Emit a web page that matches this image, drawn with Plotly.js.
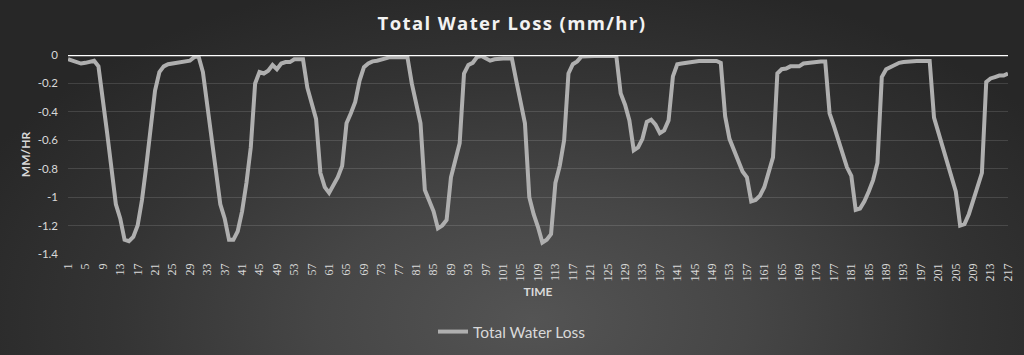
<!DOCTYPE html>
<html>
<head>
<meta charset="utf-8">
<script src="https://cdn.plot.ly/plotly-3.0.1.min.js"></script>
<style>
  html, body { margin: 0; padding: 0; }
  body {
    width: 1024px; height: 355px; overflow: hidden;
    background: radial-gradient(ellipse 60% 100% at 52% 90%, #545454 0%, #464646 35%, #343434 68%, #272727 100%);
  }
  #chart { width: 1024px; height: 355px; }
  .gtitle { letter-spacing: 1.4px; }
</style>
</head>
<body>
<div id="chart"></div>
<script>
// Time categories (x)
var timeCategories = [
  1,2,3,4,5,6,7,8,9,10,11,12,13,14,15,16,17,18,19,20,
  21,22,23,24,25,26,27,28,29,30,31,32,33,34,35,36,37,38,39,40,
  41,42,43,44,45,46,47,48,49,50,51,52,53,54,55,56,57,58,59,60,
  61,62,63,64,65,66,67,68,69,70,71,72,73,74,75,76,77,78,79,80,
  81,82,83,84,85,86,87,88,89,90,91,92,93,94,95,96,97,98,99,100,
  101,102,103,104,105,106,107,108,109,110,111,112,113,114,115,116,117,118,119,120,
  121,122,123,124,125,126,127,128,129,130,131,132,133,134,135,136,137,138,139,140,
  141,142,143,144,145,146,147,148,149,150,151,152,153,154,155,156,157,158,159,160,
  161,162,163,164,165,166,167,168,169,170,171,172,173,174,175,176,177,178,179,180,
  181,182,183,184,185,186,187,188,189,190,191,192,193,194,195,196,197,198,199,200,
  201,202,203,204,205,206,207,208,209,210,211,212,213,214,215,216,217
];

// Total Water Loss (mm/hr)
var totalWaterLoss = [
  -0.03,-0.04,-0.055,-0.06,-0.055,-0.05,-0.04,-0.08,-0.3,-0.55,
  -0.8,-1.05,-1.15,-1.3,-1.31,-1.28,-1.2,-1.02,-0.78,-0.52,
  -0.25,-0.12,-0.08,-0.065,-0.06,-0.05,-0.045,-0.04,-0.04,-0.015,
  -0.01,-0.12,-0.35,-0.6,-0.85,-1.05,-1.15,-1.3,-1.3,-1.24,
  -1.1,-0.9,-0.65,-0.2,-0.12,-0.13,-0.11,-0.07,-0.1,-0.06,
  -0.05,-0.05,-0.03,-0.03,-0.03,-0.23,-0.33,-0.45,-0.83,-0.93,
  -0.97,-0.92,-0.86,-0.78,-0.48,-0.41,-0.33,-0.18,-0.085,-0.06,
  -0.045,-0.04,-0.03,-0.02,-0.015,-0.015,-0.015,-0.015,-0.015,-0.2,
  -0.33,-0.48,-0.95,-1.03,-1.1,-1.22,-1.2,-1.16,-0.86,-0.74,
  -0.62,-0.13,-0.07,-0.055,-0.015,-0.007,-0.025,-0.04,-0.03,-0.025,
  -0.025,-0.025,-0.025,-0.18,-0.33,-0.48,-1.0,-1.12,-1.21,-1.32,
  -1.3,-1.26,-0.9,-0.78,-0.6,-0.13,-0.065,-0.045,-0.01,-0.007,
  -0.007,-0.007,-0.007,-0.007,-0.007,-0.007,-0.007,-0.27,-0.35,-0.46,
  -0.67,-0.65,-0.59,-0.47,-0.455,-0.49,-0.55,-0.53,-0.46,-0.15,
  -0.065,-0.06,-0.055,-0.05,-0.042,-0.042,-0.042,-0.042,-0.042,-0.042,
  -0.055,-0.43,-0.59,-0.67,-0.75,-0.82,-0.86,-1.03,-1.02,-0.99,
  -0.93,-0.83,-0.72,-0.13,-0.1,-0.095,-0.08,-0.08,-0.08,-0.06,
  -0.055,-0.055,-0.045,-0.045,-0.045,-0.41,-0.5,-0.6,-0.7,-0.79,
  -0.85,-1.09,-1.08,-1.03,-0.96,-0.88,-0.76,-0.155,-0.1,-0.085,
  -0.07,-0.055,-0.05,-0.045,-0.042,-0.042,-0.042,-0.042,-0.042,-0.44,
  -0.54,-0.65,-0.75,-0.86,-0.96,-1.2,-1.19,-1.12,-1.02,-0.94,
  -0.83,-0.19,-0.165,-0.155,-0.145,-0.145,-0.13
];

// Tick labels
var xTickLabels = [1,5,9,13,17,21,25,29,33,37,41,45,49,53,57,61,65,69,73,77,81,85,89,93,97,101,105,109,113,117,121,125,129,133,137,141,145,149,153,157,161,165,169,173,177,181,185,189,193,197,201,205,209,213,217];
var yTickValues = [0,-0.2,-0.4,-0.6,-0.8,-1,-1.2,-1.4];
var yTickLabels = ["0","-0.2","-0.4","-0.6","-0.8","-1","-1.2","-1.4"];

var FONT = "Lato, 'Open Sans', sans-serif";
var textColor = "#d9d9d9";

var trace = {
  type: "scatter",
  mode: "lines",
  name: "Total Water Loss",
  x: timeCategories,
  y: totalWaterLoss,
  line: { color: "#afafaf", width: 4, shape: "linear" },
  hoverinfo: "x+y"
};

var layout = {
  width: 1024,
  height: 355,
  paper_bgcolor: "rgba(0,0,0,0)",
  plot_bgcolor: "rgba(0,0,0,0)",
  margin: { l: 68, r: 16, t: 55, b: 101, pad: 0 },
  title: {
    text: "<b>Total Water Loss (mm/hr)</b>",
    font: { family: "'Open Sans', Lato, sans-serif", size: 18.5, color: "#f2f2f2" },
    x: 0.5, xanchor: "center", xref: "container",
    y: 1 - 24 / 355, yanchor: "middle", yref: "container"
  },
  showlegend: true,
  legend: {
    orientation: "h",
    xref: "container", x: 0.5, xanchor: "center",
    yref: "container", y: 1 - 332 / 355, yanchor: "middle",
    font: { family: FONT, size: 15.5, color: textColor },
    bgcolor: "rgba(0,0,0,0)",
    itemwidth: 30
  },
  xaxis: {
    type: "linear",
    range: [1, 217],
    tickmode: "array",
    tickvals: xTickLabels,
    ticktext: xTickLabels.map(String),
    tickangle: -90,
    tickfont: { family: "'Liberation Serif', serif", size: 12, color: textColor },
    ticks: "",
    ticklabelstandoff: 6,
    showgrid: false,
    zeroline: false,
    showline: false,
    automargin: false,
    title: {
      text: "<b>TIME</b>",
      font: { family: FONT, size: 12, color: textColor },
      standoff: 7
    }
  },
  yaxis: {
    range: [-1.4, 0],
    tickmode: "array",
    tickvals: yTickValues,
    ticktext: yTickLabels,
    tickfont: { family: FONT, size: 11.5, color: textColor },
    ticks: "",
    ticklabelstandoff: 9,
    showgrid: true,
    gridcolor: "rgba(255,255,255,0.13)",
    gridwidth: 1,
    zeroline: false,
    showline: false,
    automargin: false,
    title: {
      text: "<b>MM/HR</b>",
      font: { family: FONT, size: 12, color: textColor },
      standoff: 4
    }
  },
  shapes: [
    {
      type: "line", layer: "above",
      xref: "paper", x0: 0, x1: 1,
      yref: "y", y0: 0, y1: 0,
      line: { color: "#ffffff", width: 2.5 }
    }
  ]
};

Plotly.newPlot("chart", [trace], layout, { staticPlot: true, displayModeBar: false });
</script>
</body>
</html>
